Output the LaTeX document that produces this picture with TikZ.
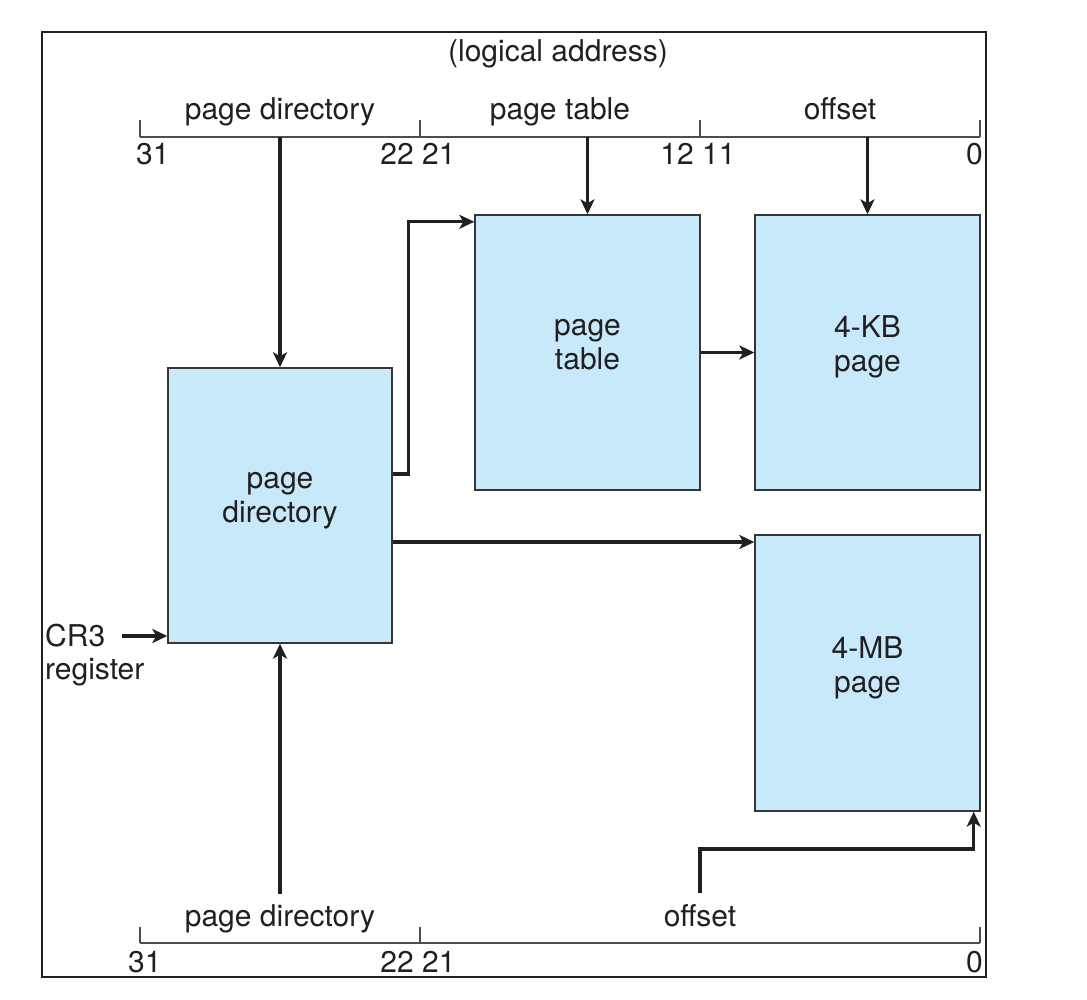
\documentclass[tikz,border=0pt]{standalone}
\usepackage{fontspec}
\setmainfont{TeX Gyre Heros}
\usepackage{xcolor}
\usepackage{tikz}
\usetikzlibrary{positioning,arrows.meta,calc}
\definecolor{pagefill}{RGB}{199, 233, 250}
\definecolor{inkcolor}{RGB}{35, 31, 32}
\tikzset{
    page box/.style={rectangle, draw=inkcolor!90, fill=pagefill, line width=1.4pt, minimum width=225pt, minimum height=275pt, inner sep=0pt, align=center, text depth=17pt, font=\fontsize{30}{34}\selectfont, text=inkcolor},
    link/.style={line width=3.4pt, draw=inkcolor, -{Stealth[length=15pt, width=14pt, inset=4pt]}},
    ruler/.style={line width=1.3pt, draw=inkcolor!80},
    field label/.style={anchor=base, inner sep=0pt, font=\fontsize{30}{34}\selectfont, text=inkcolor},
    bit label/.style={field label},
    frame/.style={line width=2.5pt, draw=inkcolor}
}

\begin{document}
\begin{tikzpicture}[x=1pt, y=-1pt]
    \useasboundingbox (0,0) rectangle (1087,1000);
    \draw[frame] (42,32) rectangle (986,977);

    % Logical address, top
    \node[field label] (title) at (558,62) {(logical address)};
    \draw[ruler] (140,137) -- (980,137);
    \foreach \x in {140,420,700,980}
        \draw[ruler] (\x,120) -- (\x,137);
    \node[field label] (dirfield) at (280,120) {page directory};
    \node[field label] (tabfield) at (560,120) {page table};
    \node[field label] (offfield) at (840,120) {offset};
    \node[bit label, anchor=base west] (b31) at (136,165) {31};
    \node[bit label] (b22) at (418,165) {22 21};
    \node[bit label] (b12) at (698,165) {12 11};
    \node[bit label, anchor=base east] (b0) at (983,165) {0};

    % Tables and pages
    \node[page box, minimum width=224pt] (pd) at (280,505.5) {page\\directory};
    \node[page box] (pt) at (587.5,352.5) {page\\table};
    \node[page box] (kb) at (867.5,352.5) {4-KB\\page};
    \node[page box, minimum height=276pt] (mb) at (867.5,673) {4-MB\\page};

    % Fields into the tables
    \coordinate (dirbit) at (280,137);
    \coordinate (tabbit) at (587.5,137);
    \coordinate (offbit) at (867.5,137);
    \draw[link] (dirbit) -- (pd.north);
    \draw[link] (tabbit) -- (pt.north);
    \draw[link] (offbit) -- (kb.north);

    % Directory to the tables and pages
    \draw[link] ([yshift=31.5pt]pd.east) -- ++(16,0) |- ([yshift=-7.5pt]pt.north west);
    \draw[link] (pt.east) -- (kb.west);
    \draw[link] ([yshift=-36.5pt]pd.east) coordinate (mbout) -- (mbout -| mb.west);

    % CR3 register
    \node[field label, anchor=north west, align=left, font=\fontsize{30}{33}\selectfont] (cr3) at (45,624) {CR3\\register};
    \coordinate (cr3out) at (122,636);
    \draw[link] (cr3out) -- (cr3out -| pd.west);

    % Logical address, bottom
    \draw[ruler] (140,943) -- (980,943);
    \foreach \x in {140,420,980}
        \draw[ruler] (\x,927) -- (\x,943);
    \node[field label] (dirfield2) at (280,926) {page directory};
    \node[field label] (offfield2) at (700,926) {offset};
    \node[bit label, anchor=base west] (c31) at (128,972) {31};
    \node[bit label] (c22) at (418,972) {22 21};
    \node[bit label, anchor=base east] (c0) at (983,972) {0};

    \coordinate (dirbit2) at (280,894);
    \coordinate (offbit2) at (700,893);
    \draw[link] (dirbit2) -- (pd.south);
    \draw[link] (offbit2) -- ++(0,-44) -| ([xshift=-7pt]mb.south east);
\end{tikzpicture}
\end{document}
